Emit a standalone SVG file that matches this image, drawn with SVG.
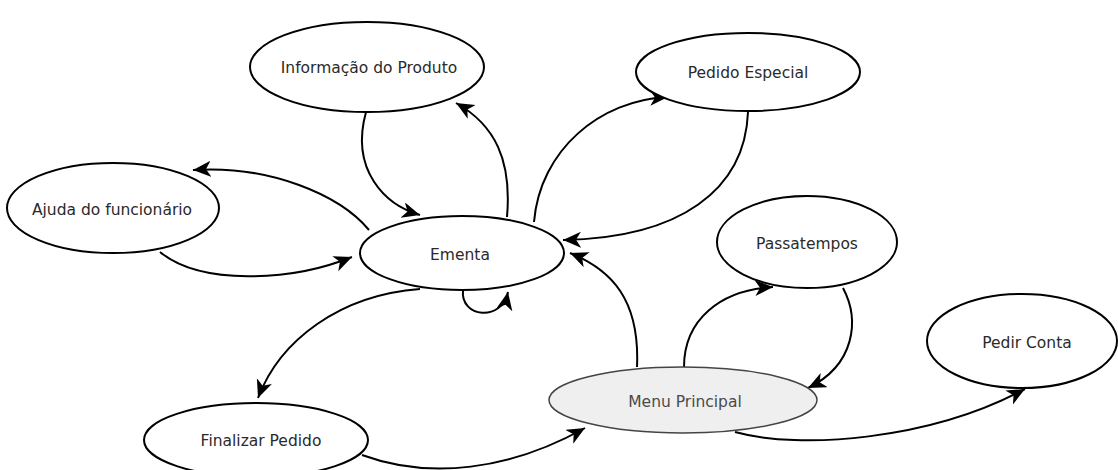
<svg xmlns="http://www.w3.org/2000/svg" width="1118" height="470" viewBox="0 0 1118 470">
<style>
.n{fill:#fff;stroke:#000;stroke-width:2}
.m{fill:#efefef;stroke:#444;stroke-width:1.5}
.t{font-family:"DejaVu Sans",Verdana,sans-serif;font-size:15.5px;fill:#2a2a2a;text-anchor:middle;dominant-baseline:central}
.c{fill:none;stroke:#000;stroke-width:2;marker-end:url(#a)}
</style>
<defs>
<marker id="a" markerUnits="userSpaceOnUse" markerWidth="22" markerHeight="20" refX="18" refY="8" orient="auto">
<path d="M0,0 L18,8 L0,16 L5,8 Z" fill="#000"/>
</marker>
</defs>
<g id="connectors">
<path class="c" d="M366 112 C350 170,385 205,420 215"/>
<path class="c" d="M507 217 C512 160,495 125,456 103"/>
<path class="c" d="M534 222 C540 150,600 100,668 97"/>
<path class="c" d="M748 112 C745 190,680 238,563 240"/>
<path class="c" d="M369 230 C340 195,270 165,193 170"/>
<path class="c" d="M160 252 C200 285,290 282,352 257"/>
<path class="c" d="M463 290 C460 318,502 322,508 292"/>
<path class="c" d="M420 289 C340 295,280 340,258 398"/>
<path class="c" d="M362 455 C430 480,510 470,585 428"/>
<path class="c" d="M637 367 C640 300,612 270,570 253"/>
<path class="c" d="M684 367 C684 320,720 290,773 287"/>
<path class="c" d="M843 288 C860 320,855 365,808 388"/>
<path class="c" d="M735 432 C800 450,930 440,1025 389"/>
</g>
<g id="info"><ellipse class="n" cx="367" cy="67" rx="117" ry="45"/><text class="t" x="369" y="68">Informação do Produto</text></g>
<g id="pedido-especial"><ellipse class="n" cx="748" cy="72" rx="112" ry="39"/><text class="t" x="748" y="73">Pedido Especial</text></g>
<g id="ajuda"><ellipse class="n" cx="113" cy="208" rx="106" ry="45"/><text class="t" x="112" y="210">Ajuda do funcionário</text></g>
<g id="ementa"><ellipse class="n" cx="462" cy="253" rx="102" ry="37"/><text class="t" x="460" y="255">Ementa</text></g>
<g id="passatempos"><ellipse class="n" cx="807" cy="242" rx="90" ry="46"/><text class="t" x="807" y="244">Passatempos</text></g>
<g id="pedir-conta"><ellipse class="n" cx="1022" cy="341" rx="95" ry="47"/><text class="t" x="1027" y="343">Pedir Conta</text></g>
<g id="menu"><ellipse class="m" cx="683" cy="400" rx="134" ry="33"/><text class="t" x="685" y="402" style="fill:#4a4a4a">Menu Principal</text></g>
<g id="finalizar"><ellipse class="n" cx="256" cy="440" rx="112" ry="37"/><text class="t" x="261" y="441">Finalizar Pedido</text></g>
</svg>
